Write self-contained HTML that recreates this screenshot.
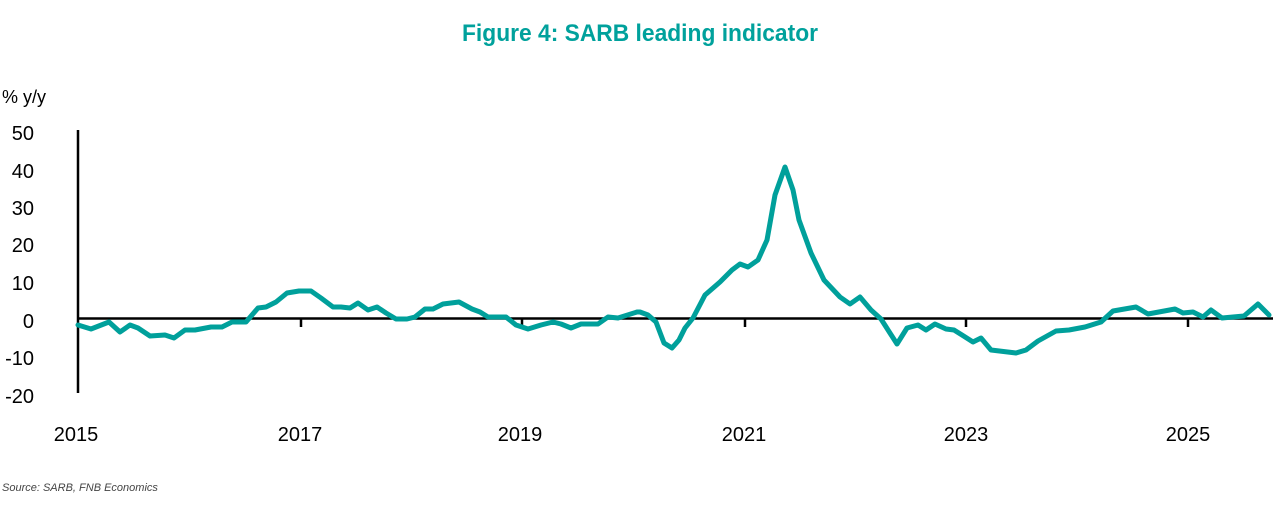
<!DOCTYPE html>
<html><head><meta charset="utf-8"><style>
html,body{margin:0;padding:0;background:#fff;}
svg{display:block;}
</style></head><body>
<svg width="1280" height="520" xmlns="http://www.w3.org/2000/svg" font-family="Liberation Sans, Arial, sans-serif">
<text x="640" y="41" text-anchor="middle" font-size="24" font-weight="bold" fill="#00a19c" textLength="356" lengthAdjust="spacingAndGlyphs">Figure 4: SARB leading indicator</text>
<text x="2" y="103" font-size="18" fill="#000">% y/y</text>
<g font-size="20" fill="#000" text-anchor="end">
<text x="34" y="140">50</text>
<text x="34" y="178">40</text>
<text x="34" y="215">30</text>
<text x="34" y="252">20</text>
<text x="34" y="290">10</text>
<text x="34" y="328">0</text>
<text x="34" y="365">-10</text>
<text x="34" y="403">-20</text>
</g>
<g font-size="20" fill="#000" text-anchor="middle">
<text x="76" y="441">2015</text>
<text x="300" y="441">2017</text>
<text x="520" y="441">2019</text>
<text x="744" y="441">2021</text>
<text x="966" y="441">2023</text>
<text x="1188" y="441">2025</text>
</g>
<g stroke="#000" stroke-width="2.5" fill="none">
<line x1="78" y1="130" x2="78" y2="393"/>
<line x1="78" y1="318.5" x2="1273" y2="318.5"/>
<line x1="301" y1="318" x2="301" y2="327"/>
<line x1="522" y1="318" x2="522" y2="327"/>
<line x1="745" y1="318" x2="745" y2="327"/>
<line x1="966" y1="318" x2="966" y2="327"/>
<line x1="1188" y1="318" x2="1188" y2="327"/>
</g>
<polyline fill="none" stroke="#00a09b" stroke-width="5" stroke-linejoin="round" stroke-linecap="round" points="78,325 91,329 109,322 120,332 130,325 138,328 150,336 165,335 174,338 185,330 195,330 211,327 222,327 232,322 246,322 258,308 266,307 276,302 287,293 299,291 311,291 321,298 333,307 341,307 350,308 358,303 368,310 377,307 386,313 396,319 407,319 415,317 425,309 433,309 443,304 459,302 472,309 480,312 488,317 506,317 516,325 528,329 541,325 553,322 561,324 571,328 581,324 598,324 608,317 618,318 637,312 640,312 648,315 656,322 664,343 672,348 679,340 685,328 693,318 705,295 720,282 732,270 740,264 748,267 758,260 767,240 775,195 785,167 793,190 799,220 811,253 824,280 840,297 850,304 860,297 871,310 881,319 897,344 907,328 918,325 926,330 935,324 946,329 954,330 962,335 973,342 981,338 991,350 1016,353 1026,350 1038,341 1056,331 1069,330 1085,327 1101,322 1113,311 1136,307 1148,314 1175,309 1183,313 1193,312 1203,317 1211,310 1222,318 1244,316 1258,304 1269,315"/>
<text x="2" y="491" font-size="11" font-style="italic" fill="#444">Source: SARB, FNB Economics</text>
</svg>
</body></html>
